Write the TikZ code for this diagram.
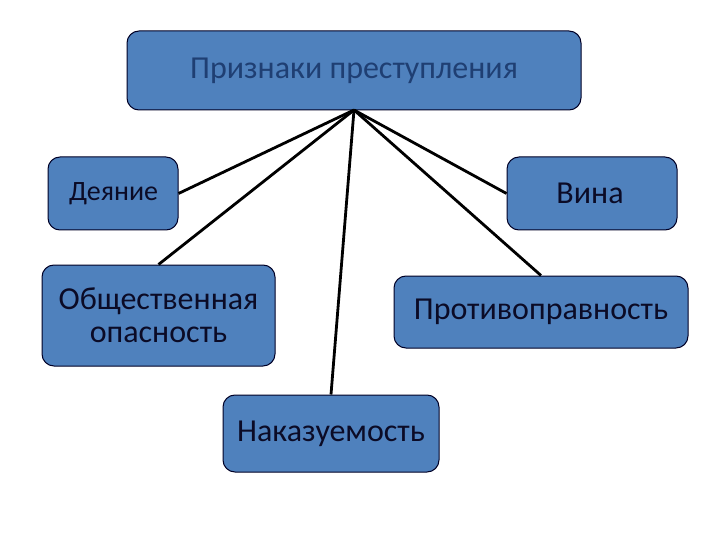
\documentclass[tikz,border=0pt]{standalone}
\usepackage{fontspec}
\setmainfont{Carlito}
\begin{document}
\begin{tikzpicture}[x=1pt,y=-1pt,
  box/.style={draw=black!85!blue, line width=1pt, fill=boxblue, rounded corners=12pt, inner sep=0pt, font=\fontsize{32}{36}\selectfont, text=txtdark},
  link/.style={draw=black, line width=2.8pt}]
\definecolor{boxblue}{HTML}{4F81BD}
\definecolor{txtdark}{HTML}{0B0B26}
\definecolor{titletxt}{HTML}{1F3F73}
\useasboundingbox (0,0) rectangle (720,540);
\fill[white] (0,0) rectangle (720,540);
\node[box, minimum width=454pt, minimum height=79pt, text=titletxt] (t) at (354,70.5) {Признаки преступления};
\node[box, minimum width=130pt, minimum height=73pt, text width=88pt, align=left, font=\fontsize{28}{32}\selectfont] (d) at (113,193.5) {\raisebox{-3pt}{Деяние}};
\node[box, minimum width=170pt, minimum height=73pt] (v) at (592,193.5) {\hspace*{-4pt}Вина};
\node[box, minimum width=233pt, minimum height=101pt, align=center, font=\fontsize{32}{33}\selectfont] (o) at (158.5,315.5) {Общественная\\опасность};
\node[box, minimum width=294pt, minimum height=72pt] (p) at (541,312) {Противоправность};
\node[box, minimum width=216pt, minimum height=77pt] (n) at (331,433.5) {Наказуемость};
\coordinate (c) at (354,110);
\draw[link] (c) -- (d.east);
\draw[link] (c) -- (o.north);
\draw[link] (c) -- (n.north);
\draw[link] (c) -- (p.north);
\draw[link] (c) -- (v.west);
\end{tikzpicture}
\end{document}
